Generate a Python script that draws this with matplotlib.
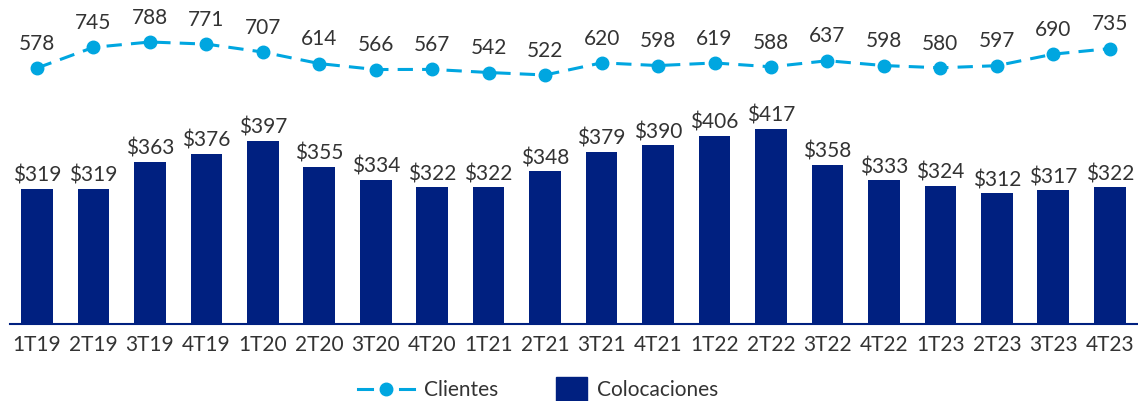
import matplotlib
matplotlib.use("Agg")
import matplotlib.pyplot as plt
from matplotlib.lines import Line2D
from matplotlib.patches import Rectangle
import numpy as np

periods = ["1T19","2T19","3T19","4T19","1T20","2T20","3T20","4T20","1T21","2T21",
           "3T21","4T21","1T22","2T22","3T22","4T22","1T23","2T23","3T23","4T23"]
colocaciones = [319,319,363,376,397,355,334,322,322,348,379,390,406,417,358,333,324,312,317,322]
clientes = [578,745,788,771,707,614,566,567,542,522,620,598,619,588,637,598,580,597,690,735]

plt.rcParams['font.family'] = ['Lato', 'DejaVu Sans']
BAR = "#002080"
LINE = "#00A6E0"
TXT = "#333333"
FS = 15

W, H = 1138, 402
fig = plt.figure(figsize=(W/100, H/100), dpi=100)
ax = fig.add_axes([10/W, 77/H, 1 - 10/W, 325/H])
x = np.arange(len(periods))
ax.bar(x, colocaciones, width=0.56, color=BAR, zorder=2)
ax.set_ylim(100, 100 + 325/0.616)
ax.set_xlim(-0.478, 19.5)
for xi, v in zip(x, colocaciones):
    ax.annotate(f"${v}", (xi, v), xytext=(0, 3), textcoords="offset points",
                ha="center", va="bottom", fontsize=FS, color=TXT)
ax.set_xticks(x)
ax.set_xticklabels(periods, fontsize=FS, color=TXT)
ax.tick_params(axis="x", length=0, pad=7)
ax.set_yticks([])
for s in ["top", "right", "left"]:
    ax.spines[s].set_visible(False)
ax.spines["bottom"].set_color(BAR)
ax.spines["bottom"].set_linewidth(1.5)
ax.patch.set_visible(False)

ax2 = ax.twinx()
ax2.plot(x, clientes, color=LINE, lw=2.2, dashes=(5, 3), marker="o", markersize=9, zorder=3)
lo = 788 - 282/0.124
ax2.set_ylim(lo, lo + 325/0.124)
ax2.set_yticks([])
for s in ["top", "right", "left", "bottom"]:
    ax2.spines[s].set_visible(False)
for xi, v in zip(x, clientes):
    ax2.annotate(f"{v}", (xi, v), xytext=(0, 11), textcoords="offset points",
                 ha="center", va="bottom", fontsize=FS, color=TXT)

# legend drawn in figure pixel coordinates
def fx(px): return px / W
def fy(py): return 1 - py / H
ly = 390
fig.add_artist(Line2D([fx(358), fx(372)], [fy(ly), fy(ly)], color=LINE, lw=2.2))
fig.add_artist(Line2D([fx(400), fx(414)], [fy(ly), fy(ly)], color=LINE, lw=2.2))
fig.add_artist(Line2D([fx(386)], [fy(ly)], color=LINE, marker="o", markersize=9, lw=0))
fig.text(fx(424), fy(ly), "Clientes", ha="left", va="center", fontsize=FS, color=TXT)
fig.add_artist(Rectangle((fx(556), fy(402)), fx(31), 24/H, color=BAR))
fig.text(fx(597), fy(ly), "Colocaciones", ha="left", va="center", fontsize=FS, color=TXT)

fig.savefig("out.png", dpi=100)
